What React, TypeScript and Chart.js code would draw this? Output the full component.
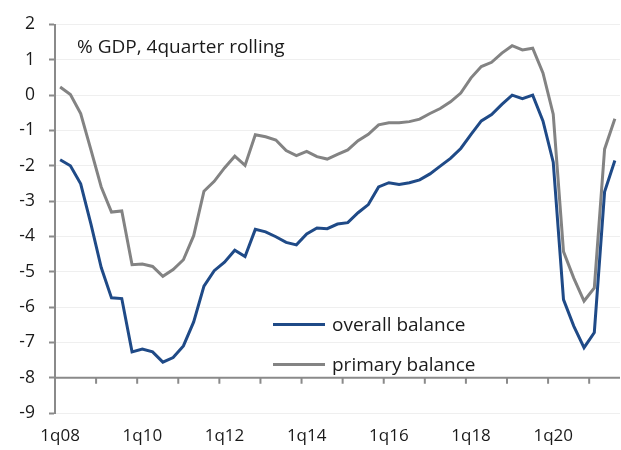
import { useEffect, useRef } from "react";
import { Chart, registerables } from "chart.js";

Chart.register(...registerables);

const categories = [
  "1q08", "2q08", "3q08", "4q08",
  "1q09", "2q09", "3q09", "4q09",
  "1q10", "2q10", "3q10", "4q10",
  "1q11", "2q11", "3q11", "4q11",
  "1q12", "2q12", "3q12", "4q12",
  "1q13", "2q13", "3q13", "4q13",
  "1q14", "2q14", "3q14", "4q14",
  "1q15", "2q15", "3q15", "4q15",
  "1q16", "2q16", "3q16", "4q16",
  "1q17", "2q17", "3q17", "4q17",
  "1q18", "2q18", "3q18", "4q18",
  "1q19", "2q19", "3q19", "4q19",
  "1q20", "2q20", "3q20", "4q20",
  "1q21", "2q21", "3q21",
];

const overallBalance = [
  -1.83, -2.0, -2.51, -3.65,
  -4.88, -5.74, -5.76, -7.27,
  -7.19, -7.27, -7.56, -7.43,
  -7.1, -6.42, -5.41, -4.97,
  -4.73, -4.39, -4.57, -3.8,
  -3.87, -4.01, -4.17, -4.24,
  -3.93, -3.76, -3.78, -3.65,
  -3.61, -3.33, -3.1, -2.6,
  -2.48, -2.53, -2.48, -2.4,
  -2.23, -2.01, -1.79, -1.51,
  -1.11, -0.73, -0.55, -0.26,
  0.0, -0.1, 0.0, -0.73,
  -1.9, -5.79, -6.54, -7.15,
  -6.72, -2.74, -1.85,
];

const primaryBalance = [
  0.23, 0.02, -0.52, -1.55,
  -2.6, -3.31, -3.28, -4.8,
  -4.78, -4.85, -5.13, -4.94,
  -4.66, -3.98, -2.72, -2.44,
  -2.06, -1.73, -1.99, -1.12,
  -1.18, -1.27, -1.57, -1.71,
  -1.59, -1.74, -1.81, -1.68,
  -1.55, -1.29, -1.11, -0.84,
  -0.78, -0.78, -0.75, -0.68,
  -0.52, -0.38, -0.19, 0.06,
  0.49, 0.81, 0.93, 1.19,
  1.4, 1.28, 1.33, 0.63,
  -0.54, -4.43, -5.18, -5.83,
  -5.46, -1.53, -0.67,
];

const seriesNames = ["overall balance", "primary balance"];
const titleText = "% GDP, 4quarter rolling";
const yMin = -9;
const yMax = 2;
const xAxisCrossing = -8;
const labelEvery = 8;
const tickEvery = 4;

const FONT = "'Open Sans', 'Noto Sans', sans-serif";
const TEXT = "#1a1a1a";
const AXIS = "#8a8a8a";
const BLUE = "#1f4a87";
const GREY = "#838383";

const decorPlugin = {
  id: "decor",
  beforeDatasetsDraw(chart: any) {
    const { ctx, chartArea, scales } = chart;
    const x = scales.x;
    const y = scales.y;
    const py = y.getPixelForValue(xAxisCrossing);
    const half = (x.getPixelForValue(1) - x.getPixelForValue(0)) / 2;
    ctx.save();
    ctx.strokeStyle = AXIS;
    ctx.lineWidth = 2;
    ctx.beginPath();
    ctx.moveTo(chartArea.left, py);
    ctx.lineTo(chartArea.right, py);
    for (let i = 0; i < categories.length; i += tickEvery) {
      const px = x.getPixelForValue(i) - half;
      ctx.moveTo(px, py);
      ctx.lineTo(px, py + 6);
    }
    ctx.stroke();
    ctx.restore();
  },
  afterDatasetsDraw(chart: any) {
    const { ctx, chartArea } = chart;
    ctx.save();
    ctx.fillStyle = TEXT;
    ctx.font = `19px ${FONT}`;
    ctx.textBaseline = "alphabetic";
    ctx.textAlign = "left";
    ctx.fillText(titleText, chartArea.left + 22, chartArea.top + 28);

    const ds = chart.data.datasets;
    const lx0 = chartArea.left + 218;
    const lx1 = chartArea.left + 270;
    const rows = [chartArea.top + 300, chartArea.top + 340];
    ds.forEach((d: any, i: number) => {
      const ly = rows[i];
      ctx.strokeStyle = d.borderColor;
      ctx.lineWidth = 3;
      ctx.beginPath();
      ctx.moveTo(lx0, ly);
      ctx.lineTo(lx1, ly);
      ctx.stroke();
      ctx.fillStyle = TEXT;
      ctx.fillText(d.label, lx1 + 7, ly + 6.5);
    });
    ctx.restore();
  },
};

export default function App() {
  const ref = useRef<HTMLCanvasElement | null>(null);

  useEffect(() => {
    if (!ref.current) return;
    const chart = new Chart(ref.current, {
      type: "line",
      data: {
        labels: categories,
        datasets: [
          {
            label: seriesNames[0],
            data: overallBalance,
            borderColor: BLUE,
            backgroundColor: BLUE,
            borderWidth: 3,
            pointRadius: 0,
            tension: 0,
          },
          {
            label: seriesNames[1],
            data: primaryBalance,
            borderColor: GREY,
            backgroundColor: GREY,
            borderWidth: 3,
            pointRadius: 0,
            tension: 0,
          },
        ],
      },
      options: {
        animation: false,
        responsive: false,
        layout: { padding: { top: 21, right: 1, left: 0, bottom: 0 } },
        plugins: {
          legend: { display: false },
          tooltip: { enabled: false },
        },
        scales: {
          x: {
            type: "category",
            offset: true,
            grid: { display: false, drawTicks: false },
            border: { display: false },
            ticks: {
              autoSkip: false,
              maxRotation: 0,
              minRotation: 0,
              padding: 13,
              color: TEXT,
              font: { family: FONT, size: 17 },
              callback: (_v: any, i: number) =>
                i % labelEvery === 0 ? categories[i] : null,
            },
            afterFit: (s: any) => {
              s.height = 37;
            },
          },
          y: {
            min: yMin,
            max: yMax,
            ticks: {
              stepSize: 1,
              padding: 14,
              color: TEXT,
              font: { family: FONT, size: 17.5 },
            },
            grid: {
              color: "#efefef",
              lineWidth: 1,
              tickLength: 6,
              tickColor: AXIS,
              tickWidth: 2,
            },
            border: { color: AXIS, width: 2 },
            afterFit: (s: any) => {
              s.width = 55;
            },
          },
        },
      },
      plugins: [decorPlugin],
    });
    return () => chart.destroy();
  }, []);

  return (
    <div style={{ position: "fixed", left: 0, top: 0, width: 621, height: 450, background: "#fff" }}>
      <canvas ref={ref} width={621} height={450} style={{ width: 621, height: 450 }} />
    </div>
  );
}
